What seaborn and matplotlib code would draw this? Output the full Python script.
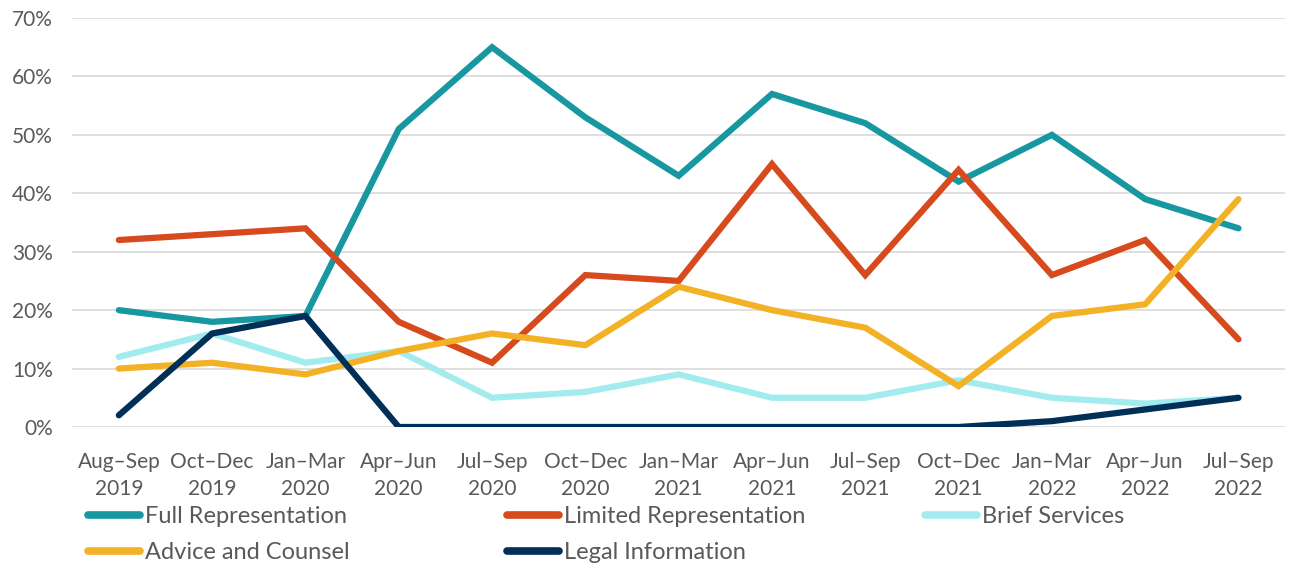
import pandas as pd
import matplotlib.pyplot as plt
import seaborn as sns

# 期間ラベル
periods = ["Aug–Sep\n2019", "Oct–Dec\n2019", "Jan–Mar\n2020", "Apr–Jun\n2020",
           "Jul–Sep\n2020", "Oct–Dec\n2020", "Jan–Mar\n2021", "Apr–Jun\n2021",
           "Jul–Sep\n2021", "Oct–Dec\n2021", "Jan–Mar\n2022", "Apr–Jun\n2022",
           "Jul–Sep\n2022"]

full_rep = [20, 18, 19, 51, 65, 53, 43, 57, 52, 42, 50, 39, 34]
limited_rep = [32, 33, 34, 18, 11, 26, 25, 45, 26, 44, 26, 32, 15]
brief = [12, 16, 11, 13, 5, 6, 9, 5, 5, 8, 5, 4, 5]
advice = [10, 11, 9, 13, 16, 14, 24, 20, 17, 7, 19, 21, 39]
legal_info = [2, 16, 19, 0, 0, 0, 0, 0, 0, 0, 1, 3, 5]

series = {
    "Full Representation": full_rep,
    "Limited Representation": limited_rep,
    "Brief Services": brief,
    "Advice and Counsel": advice,
    "Legal Information": legal_info,
}
colors = ["#17979f", "#d64a1d", "#a2ecf0", "#f3b225", "#003057"]

rows = []
for name, vals in series.items():
    for i, v in enumerate(vals):
        rows.append({"period": i, "value": v / 100, "type": name})
data = pd.DataFrame(rows)

sns.set_theme(style="white")
plt.rcParams['font.family'] = ['Lato', 'DejaVu Sans']

fig = plt.figure(figsize=(12.89, 5.66), dpi=100)
ax = fig.add_axes([0.056, 0.2456, 0.941, 0.7226])

sns.lineplot(data=data, x="period", y="value", hue="type", palette=colors,
             linewidth=4.5, ax=ax, legend=True)
for line in ax.get_lines():
    line.set_solid_capstyle('round')
    line.set_solid_joinstyle('miter')

ax.set_xlim(-0.5, 12.5)
ax.set_ylim(0, 0.7)
ax.set_yticks([i / 10 for i in range(8)])
ax.set_yticklabels([f"{i * 10}%" for i in range(8)], fontsize=15, color="#595959")
ax.set_xticks(range(len(periods)))
ax.set_xticklabels(periods, fontsize=15, color="#595959", linespacing=1.45)
ax.tick_params(axis='x', length=0, pad=18)
ax.tick_params(axis='y', length=0, pad=14)
ax.grid(axis='y', color="#d9d9d9", linewidth=1.2)
ax.set_axisbelow(True)
for s in ax.spines.values():
    s.set_visible(False)
ax.set_xlabel("")
ax.set_ylabel("")

# 凡例: 3列を固定位置に配置
handles, labels = ax.get_legend_handles_labels()
ax.get_legend().remove()
columns = [([0, 3], 88), ([1, 4], 507), ([2], 925)]
for idx, xpix in columns:
    leg = fig.legend([handles[i] for i in idx], [labels[i] for i in idx],
                     loc='upper left', bbox_to_anchor=(xpix / 1289, 0.106),
                     frameon=False, fontsize=17, handlelength=2.2,
                     handletextpad=0.2, labelspacing=0.63, borderaxespad=0,
                     borderpad=0)
    for t in leg.get_texts():
        t.set_color("#595959")
    for h in leg.get_lines():
        h.set_linewidth(5.5)
        h.set_solid_capstyle('round')

fig.savefig("out.png", dpi=100)
